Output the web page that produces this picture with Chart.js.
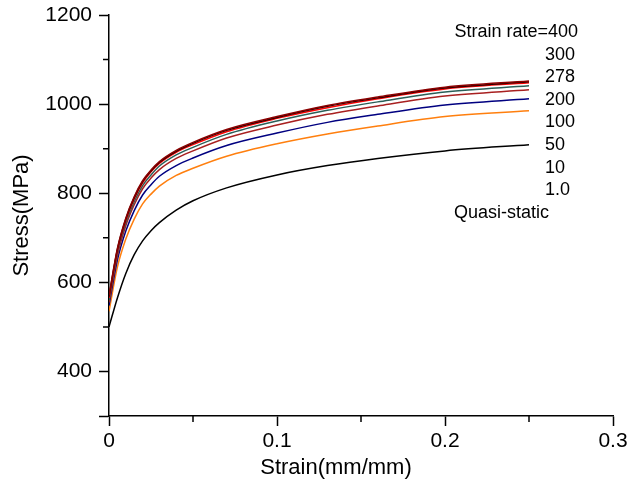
<!DOCTYPE html>
<html>
<head>
<meta charset="utf-8">
<script src="https://cdn.jsdelivr.net/npm/chart.js@4"></script>
<style>
  html, body { margin: 0; padding: 0; background: #fff; }
  #wrap { width: 628px; height: 493px; }
</style>
</head>
<body>
<div id="wrap"><canvas id="stressChart" width="628" height="493"></canvas></div>
<script>
// strain values (mm/mm) where the curves were read
const strain = [0, 0.005, 0.01, 0.015, 0.02, 0.025, 0.03, 0.04, 0.05, 0.07, 0.1, 0.13, 0.16, 0.2, 0.25];

// stress (MPa)
const rate400 = [570, 676, 744, 792, 828, 852, 871, 896, 914, 943, 972, 997, 1016, 1038, 1052];
const rate300 = [568, 674, 742, 790, 826, 850, 869, 894, 912, 941, 970, 995, 1014, 1036, 1050];
const rate278 = [565, 671, 739, 787, 823, 848, 867, 892, 909, 938, 968, 992, 1012, 1034, 1048];
const rate200 = [560, 666, 733, 781, 817, 841, 861, 886, 903, 932, 962, 986, 1005, 1027, 1041];
const rate100 = [555, 660, 727, 774, 810, 834, 853, 878, 895, 924, 953, 977, 996, 1018, 1032];
const rate10 = [548, 650, 715, 761, 796, 819, 838, 862, 879, 907, 935, 959, 977, 998, 1012];
const rate1 = [535, 634, 697, 742, 776, 798, 816, 840, 856, 883, 911, 933, 951, 972, 985];
const quasiStatic = [500, 565, 620, 662, 693, 716, 734, 762, 783, 812, 841, 862, 878, 895, 909];

const rateLabels = ['Strain rate=400', '300', '278', '200', '100', '50', '10', '1.0', 'Quasi-static'];

const xMinor = [0.05, 0.15, 0.25];
const yMinor = [500, 700, 900, 1100];

function pts(values) {
    return values.map(function (v, i) { return { x: strain[i], y: v }; });
}

function curve(values, color) {
    return {
        data: pts(values),
        borderColor: color,
        borderWidth: 1.5,
        pointRadius: 0,
        showLine: true,
        fill: false,
        cubicInterpolationMode: 'monotone'
    };
}

const fontFamily = '"Liberation Sans", Arial, sans-serif';

// minor ticks, x title and the strain rate texts
const extras = {
    id: 'extras',
    afterDraw(chart) {
        const c = chart.ctx;
        const xs = chart.scales.x;
        const ys = chart.scales.y;
        const area = chart.chartArea;
        c.save();
        c.strokeStyle = '#000';
        c.lineWidth = 1.5;
        c.beginPath();
        xMinor.forEach(function (v) {
            const px = xs.getPixelForValue(v);
            c.moveTo(px, area.bottom);
            c.lineTo(px, area.bottom + 6);
        });
        yMinor.forEach(function (v) {
            const py = ys.getPixelForValue(v);
            c.moveTo(area.left, py);
            c.lineTo(area.left - 6, py);
        });
        c.stroke();

        c.fillStyle = '#000';
        c.textBaseline = 'middle';
        c.textAlign = 'center';
        c.font = '22px ' + fontFamily;
        c.fillText('Strain(mm/mm)', 336, 468);

        c.font = '18px ' + fontFamily;
        rateLabels.forEach(function (t, i) {
            const y = 32 + i * 22.6;
            if (i === 0) {
                c.textAlign = 'right';
                c.fillText(t, 578, y);
            } else if (i === rateLabels.length - 1) {
                c.textAlign = 'left';
                c.fillText(t, 454, y);
            } else {
                c.textAlign = 'left';
                c.fillText(t, 545, y);
            }
        });
        c.restore();
    }
};

const tickFont = { family: fontFamily, size: 21 };

new Chart(document.getElementById('stressChart'), {
    type: 'scatter',
    data: {
        datasets: [
            curve(rate400, '#8b0000'),
            curve(rate300, '#2a0000'),
            curve(rate278, '#ff0000'),
            curve(rate200, '#2b5f58'),
            curve(rate100, '#a82020'),
            curve(rate10, '#000080'),
            curve(rate1, '#ff7f0e'),
            curve(quasiStatic, '#000000')
        ]
    },
    options: {
        responsive: false,
        animation: false,
        layout: { padding: { left: 0, right: 15, top: 15, bottom: 0 } },
        plugins: {
            legend: { display: false },
            tooltip: { enabled: false }
        },
        scales: {
            x: {
                type: 'linear',
                min: 0,
                max: 0.3,
                afterFit(scale) {
                    scale.height = 77;
                    scale.paddingLeft = 0;
                    scale.paddingRight = 0;
                },
                border: { display: true, color: '#000', width: 1.5 },
                grid: { drawOnChartArea: false, drawTicks: true, tickLength: 10, tickColor: '#000', tickWidth: 1.5 },
                ticks: {
                    stepSize: 0.1,
                    color: '#000',
                    font: tickFont,
                    padding: 3,
                    maxRotation: 0,
                    callback: function (v) { return Math.round(v * 10) / 10 + ''; }
                }
            },
            y: {
                min: 300,
                max: 1200,
                afterFit(scale) {
                    scale.width = 109;
                    scale.paddingTop = 0;
                    scale.paddingBottom = 0;
                },
                border: { display: true, color: '#000', width: 1.5 },
                grid: { drawOnChartArea: false, drawTicks: true, tickLength: 10, tickColor: '#000', tickWidth: 1.5 },
                ticks: {
                    stepSize: 200,
                    color: '#000',
                    font: tickFont,
                    padding: 7,
                    callback: function (v) { return v === 300 ? '' : v; }
                },
                title: {
                    display: true,
                    text: 'Stress(MPa)',
                    color: '#000',
                    font: { family: fontFamily, size: 22 },
                    padding: { top: 9, bottom: 9 }
                }
            }
        }
    },
    plugins: [extras]
});
</script>
</body>
</html>
